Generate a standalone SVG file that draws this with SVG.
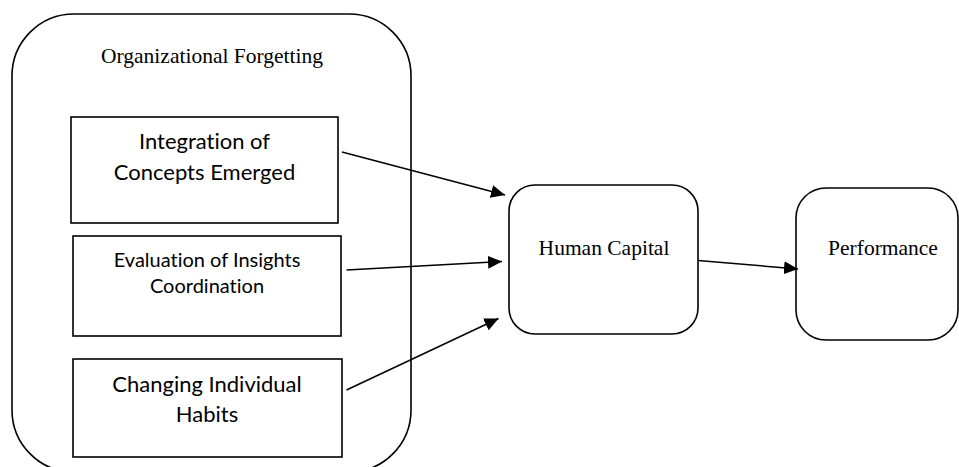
<svg xmlns="http://www.w3.org/2000/svg" width="959" height="467" viewBox="0 0 959 467">
<defs>
<style>
.box{fill:#fff;stroke:#000;stroke-width:1.6}
.serif{font-family:"Liberation Serif","Times New Roman",serif;font-size:21.5px;fill:#000;text-anchor:middle}
.sans{font-family:Lato,"Open Sans",sans-serif;font-size:22px;fill:#000;text-anchor:middle;font-variant-ligatures:none}
.sans-s{font-family:Lato,"Open Sans",sans-serif;font-size:20px;fill:#000;text-anchor:middle;font-variant-ligatures:none}
.conn{stroke:#000;stroke-width:1.5;fill:none;marker-end:url(#ah)}
</style>
<marker id="ah" markerUnits="userSpaceOnUse" markerWidth="15" markerHeight="13" refX="14" refY="6.5" orient="auto">
<path d="M0,0 L14,6.5 L0,13 z" fill="#000"/>
</marker>
</defs>
<g id="org-forgetting">
<rect class="box" x="12" y="14" width="399" height="458" rx="62" ry="62"/>
<text class="serif" x="212" y="63">Organizational Forgetting</text>
</g>
<g id="integration">
<rect class="box" x="71" y="117" width="267" height="106"/>
<text class="sans" x="204.5" y="149">Integration of</text>
<text class="sans" x="204.5" y="180">Concepts Emerged</text>
</g>
<g id="evaluation">
<rect class="box" x="73" y="236" width="268" height="100"/>
<text class="sans-s" x="207" y="267">Evaluation of Insights</text>
<text class="sans-s" x="207" y="293">Coordination</text>
</g>
<g id="changing">
<rect class="box" x="73" y="359" width="269" height="98"/>
<text class="sans" x="207" y="392">Changing Individual</text>
<text class="sans" x="207" y="421.5">Habits</text>
</g>
<g id="human-capital">
<rect class="box" x="509" y="185" width="189" height="149" rx="26" ry="26"/>
<text class="serif" x="604" y="255">Human Capital</text>
</g>
<g id="performance">
<rect class="box" x="796" y="188" width="162" height="152" rx="30" ry="30"/>
<text class="serif" x="883" y="255">Performance</text>
</g>
<g id="connectors">
<line class="conn" x1="342" y1="152" x2="505" y2="195"/>
<line class="conn" x1="346.5" y1="270" x2="502" y2="261.5"/>
<line class="conn" x1="346.5" y1="390" x2="498.5" y2="318.5"/>
<line class="conn" x1="698" y1="260.5" x2="798" y2="269"/>
</g>
</svg>
